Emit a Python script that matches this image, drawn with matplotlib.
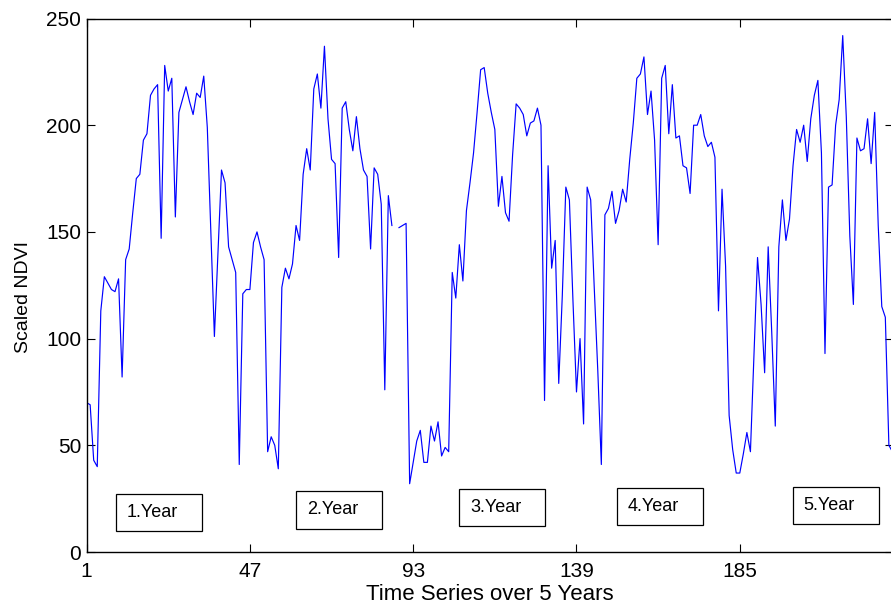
import numpy as np
import matplotlib
matplotlib.use("Agg")
import matplotlib.pyplot as plt
from matplotlib.patches import Rectangle

plt.rcParams['font.family'] = ['Liberation Sans', 'DejaVu Sans']

# Scaled NDVI values, 46 composites per year (last year cropped at the image edge)
year1 = [70, 69, 43, 40, 113, 129, 126, 123, 122, 128, 82, 137, 142, 159, 175, 177,
         193, 196, 214, 217, 219, 147, 228, 216, 222, 157, 206, 212, 218, 211, 205,
         215, 213, 223, 199, 150, 101, 140, 179, 173, 143, 137, 131, 41, 121, 123]
year2 = [123, 145, 150, 143, 137, 47, 54, 50, 39, 124, 133, 128, 135, 153, 146, 177,
         189, 179, 217, 224, 208, 237, 203, 184, 182, 138, 208, 211, 198, 188, 204,
         189, 179, 176, 142, 180, 177, 163, 76, 167, 153, np.nan, 152, 153, 154, 32]
year3 = [42, 52, 57, 42, 42, 59, 52, 61, 45, 49, 47, 131, 119, 144, 127, 160, 173,
         187, 206, 226, 227, 215, 206, 198, 162, 176, 159, 155, 186, 210, 208, 205,
         195, 201, 202, 208, 200, 71, 181, 133, 146, 79, 120, 171, 165, 118]
year4 = [75, 100, 60, 171, 165, 124, 85, 41, 158, 161, 169, 154, 160, 170, 164, 184,
         201, 222, 224, 232, 205, 216, 193, 144, 222, 228, 196, 219, 194, 195, 181,
         180, 168, 200, 200, 205, 195, 190, 192, 185, 113, 170, 134, 64, 48, 37]
year5 = [37, 46, 56, 47, 93, 138, 116, 84, 143, 103, 59, 143, 165, 146, 156, 181,
         198, 192, 200, 183, 203, 214, 221, 187, 93, 171, 172, 200, 212, 242, 204,
         148, 116, 194, 188, 189, 203, 182, 206, 153, 115, 110, 50, 47]

year_labels = ["1.Year", "2.Year", "3.Year", "4.Year", "5.Year"]
x_ticks = [1, 47, 93, 139, 185]
y_ticks = [0, 50, 100, 150, 200, 250]
x_label = "Time Series over 5 Years"
y_label = "Scaled NDVI"

# layout of the annotation boxes (data coords: left x, bottom y)
box_pos = [(9.3, 10.0), (60.0, 11.0), (106.0, 12.0), (150.3, 12.5), (200.0, 13.0)]
box_w, box_h = 24.2, 17.4

values = np.array(year1 + year2 + year3 + year4 + year5, dtype=float)
t = np.arange(1, len(values) + 1)

W, H = 891, 608
fig = plt.figure(figsize=(W / 100, H / 100), dpi=100)
ax = fig.add_axes([86.6 / W, (H - 552) / H, (W - 86.6) / W + 0.002, (552 - 18.5) / H])

ax.plot(t, values, color=(0, 0, 1), lw=0.85)

ax.set_xlim(1, 228.1)
ax.set_ylim(0, 250)
ax.set_xticks(x_ticks)
ax.set_yticks(y_ticks)
ax.tick_params(direction='in', length=6, width=0.8, top=True, right=True,
               labelsize=15)
ax.tick_params(axis='x', pad=7)
ax.tick_params(axis='y', pad=4)
for s in ax.spines.values():
    s.set_linewidth(1.0)
ax.set_xlabel(x_label, fontsize=16)
ax.set_ylabel(y_label, fontsize=14)
ax.xaxis.set_label_coords(0.5, -0.060)
ax.yaxis.set_label_coords(-0.068, 0.478)

for lab, (bx, by) in zip(year_labels, box_pos):
    ax.add_patch(Rectangle((bx, by), box_w, box_h, fill=True, fc='white',
                           ec='black', lw=0.9, zorder=3))
    ax.text(bx + 3.0, by + box_h / 2, lab, fontsize=13, ha='left', va='center',
            zorder=4)

fig.savefig("out.png", dpi=100)
